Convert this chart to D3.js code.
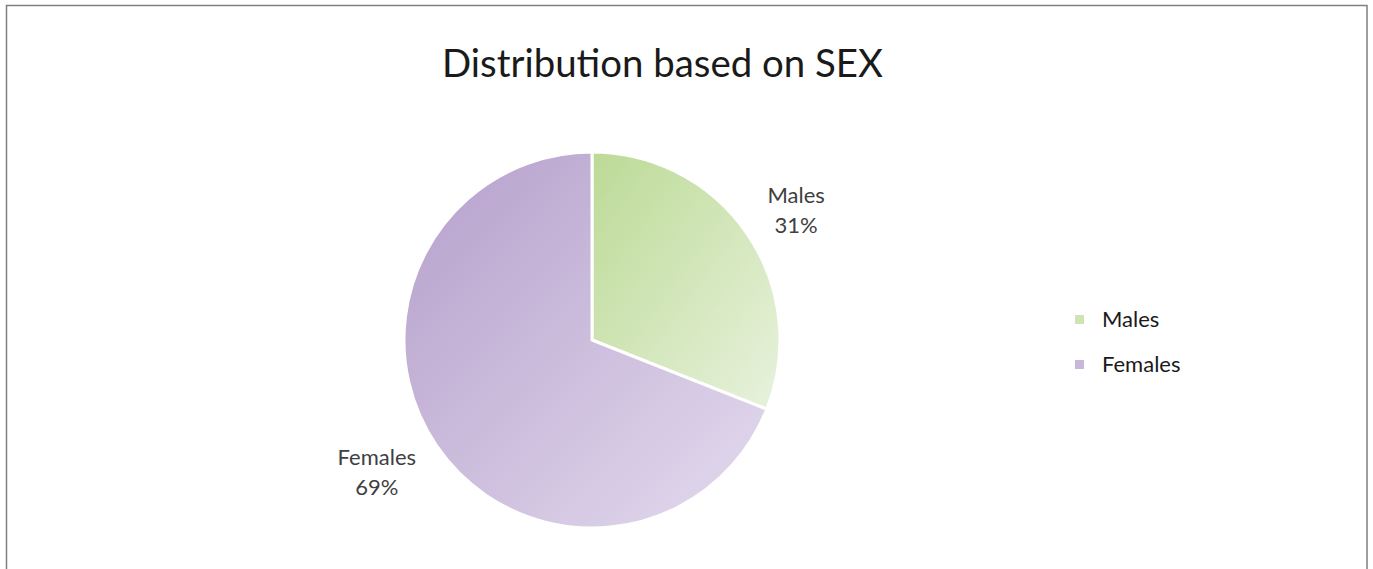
<!DOCTYPE html>
<html>
<head>
<meta charset="utf-8">
<script src="https://cdn.jsdelivr.net/npm/d3@7"></script>
<style>
  html, body { margin: 0; padding: 0; background: #fff; }
  svg { display: block; font-family: Lato, "Open Sans", sans-serif; }
</style>
</head>
<body>
<div id="chart"></div>
<script>
// 데이터
const categories = ['Males', 'Females'];
const shares = [31, 69];
const darkColors = ['#bcda96', '#b59fcb'];
const lightColors = ['#e8f2dd', '#e3dbee'];

const width = 1373, height = 569;
const svg = d3.select('#chart').append('svg')
    .attr('width', width)
    .attr('height', height);

// 테두리 (아래쪽은 화면 밖으로)
svg.append('rect')
    .attr('x', 6.5).attr('y', 5.5)
    .attr('width', 1360.5).attr('height', 600)
    .attr('fill', 'none')
    .attr('stroke', '#7f7f7f')
    .attr('stroke-width', 1.5);

svg.append('text')
    .attr('x', 662.5).attr('y', 77)
    .attr('text-anchor', 'middle')
    .attr('font-size', 38.4)
    .attr('fill', '#1a1a1a')
    .text('Distribution based on SEX');

const cx = 592, cy = 340, r = 188;
const defs = svg.append('defs');
categories.forEach((c, i) => {
    const grad = defs.append('linearGradient')
        .attr('id', `grad-${i}`)
        .attr('x1', '0').attr('y1', '0')
        .attr('x2', '1').attr('y2', '1');
    grad.append('stop').attr('offset', '0%').attr('stop-color', darkColors[i]);
    grad.append('stop').attr('offset', '100%').attr('stop-color', lightColors[i]);
});

const pie = d3.pie().sort(null).value(d => d);
const arcs = pie(shares);
const arc = d3.arc().innerRadius(0).outerRadius(r);
const g = svg.append('g').attr('transform', `translate(${cx},${cy})`);

g.selectAll('path.slice')
    .data(arcs)
    .enter()
    .append('path')
    .attr('class', 'slice')
    .attr('d', arc)
    .attr('fill', (d, i) => `url(#grad-${i})`)
    .attr('stroke', '#fff')
    .attr('stroke-width', 3)
    .attr('stroke-linejoin', 'round');

// 라벨 (파이 바깥쪽)
const labelArc = d3.arc().innerRadius(r * 1.12).outerRadius(r * 1.12);
const labelOffsets = [{ x: 30, y: -14 }, { x: -41, y: 11 }];
const labels = g.selectAll('text.slice-label')
    .data(arcs)
    .enter()
    .append('text')
    .attr('class', 'slice-label')
    .attr('text-anchor', 'middle')
    .attr('font-size', 22)
    .attr('fill', '#404040')
    .attr('transform', (d, i) => {
        const p = labelArc.centroid(d);
        return `translate(${p[0] + labelOffsets[i].x},${p[1] + labelOffsets[i].y})`;
    });
labels.append('tspan').attr('x', 0).attr('dy', '-0.2em').text((d, i) => categories[i]);
labels.append('tspan').attr('x', 0).attr('dy', '1.35em').text(d => d.data + '%');

// 범례
const legend = svg.append('g').attr('transform', 'translate(1075,313)');
const items = legend.selectAll('g.item')
    .data(categories)
    .enter()
    .append('g')
    .attr('class', 'item')
    .attr('transform', (d, i) => `translate(0,${i * 45})`);
items.append('rect')
    .attr('width', 9).attr('height', 9)
    .attr('y', 2)
    .attr('fill', (d, i) => d3.interpolateRgb(darkColors[i], lightColors[i])(0.4));
items.append('text')
    .attr('x', 27).attr('y', 14)
    .attr('font-size', 22)
    .attr('fill', '#1a1a1a')
    .text(d => d);
</script>
</body>
</html>
